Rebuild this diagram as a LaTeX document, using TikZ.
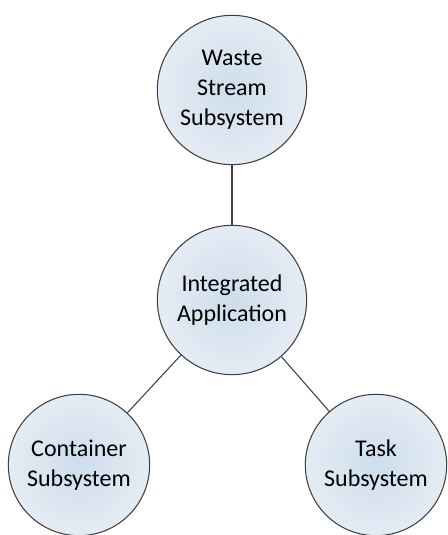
\documentclass[tikz,border=0pt]{standalone}
\usepackage{fontspec}
\setmainfont{Carlito}
\usetikzlibrary{positioning}
\definecolor{subfill}{RGB}{228, 236, 244}
\definecolor{subcore}{RGB}{206, 221, 236}
\definecolor{subline}{RGB}{64, 64, 64}

\tikzset{
  subsys/.style={circle, draw=subline, line width=0.8pt, inner color=subcore, outer color=subfill,
    minimum size=112pt, align=center, font=\fontsize{18}{22.5}\selectfont},
  link/.style={draw=subline, line width=0.8pt}
}

\begin{document}
\begin{tikzpicture}[x=0.75pt, y=-0.75pt]
                \useasboundingbox (0,0) rectangle (447,535);
                % Top circle (waste stream)
                \node[subsys] (waste) at (232,90) {Waste\\Stream\\Subsystem};
                % Centre circle (integrated application)
                \node[subsys] (app) at (232,300) {Integrated\\Application};
                % Bottom circles
                \node[subsys, minimum size=106pt] (container) at (79,465) {Container\\Subsystem};
                \node[subsys, minimum size=106pt] (task) at (376,465) {Task\\Subsystem};

                \draw[link] (waste) -- (app);
                \draw[link] (app) -- (container);
                \draw[link] (app) -- (task);
            \end{tikzpicture}
\end{document}
